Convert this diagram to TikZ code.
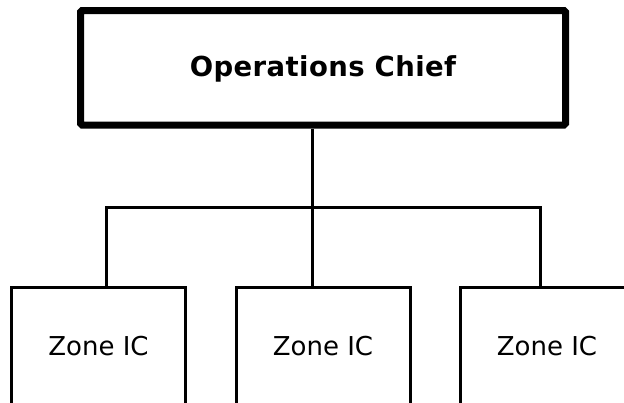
\documentclass[tikz,border=0pt]{standalone}
\usepackage{fontspec}
\setmainfont{DejaVu Sans}

\begin{document}
\begin{tikzpicture}[x=1pt,y=-1pt,
  chiefbox/.style={draw,line width=7pt,rounded corners=1.5pt,minimum width=485pt,minimum height=114.5pt,inner sep=0pt,text depth=4pt,font=\fontsize{27.5}{30}\selectfont\bfseries\addfontfeature{LetterSpace=1.5}},
  zonebox/.style={draw,line width=3pt,minimum width=174pt,minimum height=118pt,inner sep=0pt,font=\fontsize{26}{30}\selectfont},
  link/.style={line width=3pt}]
 \useasboundingbox (0,0) rectangle (624,402);
 \clip (0,0) rectangle (624,402);
 \node[chiefbox] (chief) at (323,67.75) {Operations Chief};
 \foreach \i/\x in {1/98.5, 2/323, 3/547}
  {
    \node[zonebox] (zone\i) at (\x,346) {Zone IC};
  }
 \coordinate (busL) at (106,207);
 \coordinate (busM) at (312,207);
 \coordinate (busR) at (540,207);
 \draw[link] (chief.south -| busM) -- (zone2.north -| busM);
 \draw[link] (zone1.north -| busL) -- (busL) -- (busR) -- (zone3.north -| busR);
\end{tikzpicture}
\end{document}
